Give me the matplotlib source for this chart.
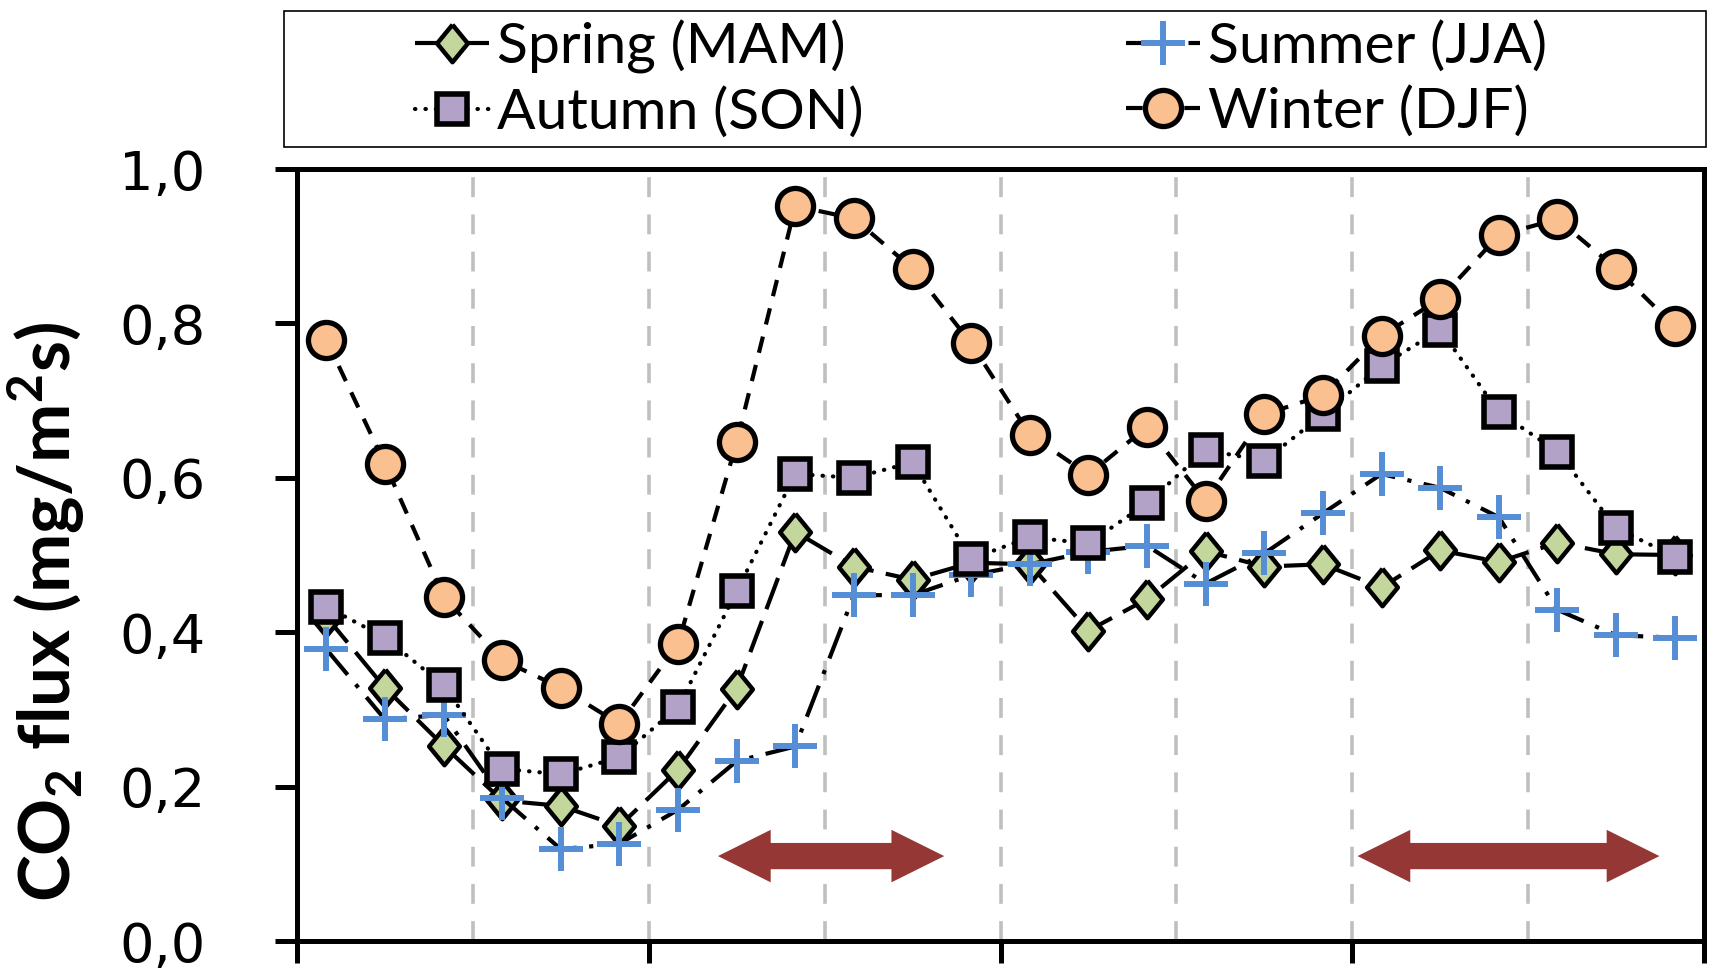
import numpy as np
import matplotlib
matplotlib.use("Agg")
import matplotlib.pyplot as plt
from matplotlib.patches import Polygon, Rectangle

# Half-hourly bins across the day (24 values per season)
hours = np.arange(24) + 0.5

spring = [0.42, 0.328, 0.253, 0.182, 0.175, 0.149, 0.222, 0.327, 0.530, 0.485,
          0.468, 0.490, 0.488, 0.402, 0.443, 0.505, 0.485, 0.488, 0.458, 0.506,
          0.491, 0.516, 0.501, 0.500]
summer = [0.378, 0.287, 0.293, 0.185, 0.119, 0.126, 0.170, 0.233, 0.252, 0.448,
          0.448, 0.474, 0.488, 0.504, 0.512, 0.463, 0.502, 0.554, 0.605, 0.587,
          0.549, 0.429, 0.396, 0.393]
autumn = [0.433, 0.393, 0.331, 0.223, 0.216, 0.238, 0.303, 0.453, 0.605, 0.600,
          0.620, 0.495, 0.523, 0.515, 0.567, 0.636, 0.622, 0.682, 0.745, 0.792,
          0.685, 0.634, 0.535, 0.498]
winter = [0.779, 0.618, 0.446, 0.364, 0.328, 0.281, 0.385, 0.646, 0.952, 0.936,
          0.871, 0.774, 0.656, 0.604, 0.666, 0.570, 0.682, 0.707, 0.784, 0.832,
          0.914, 0.935, 0.871, 0.796]

labels = ["Spring (MAM)", "Summer (JJA)", "Autumn (SON)", "Winter (DJF)"]
y_ticks = [0.0, 0.2, 0.4, 0.6, 0.8, 1.0]
y_ticklabels = ["0,0", "0,2", "0,4", "0,6", "0,8", "1,0"]
x_major = [0, 6, 12, 18, 24]
x_grid = [3, 6, 9, 12, 15, 18, 21]
arrow_spans = [(7.18, 11.04), (18.09, 23.24)]
arrow_level = 0.11

plt.rcParams["mathtext.fontset"] = "custom"
plt.rcParams["mathtext.bf"] = "Lato:bold"
plt.rcParams["mathtext.rm"] = "Lato"

fig = plt.figure(figsize=(17.11, 9.80), dpi=100)
W, H = 1711, 980
ax = fig.add_axes([297 / W, 1 - 941 / H, (1704 - 297) / W, (941 - 169) / H])
ax.set_xlim(0, 24)
ax.set_ylim(0, 1)

for s in ax.spines.values():
    s.set_linewidth(3.6)
    s.set_zorder(6)

# vertical guide lines
for gx in x_grid:
    ax.axvline(gx, color="#BFBFBF", lw=2.6, ls=(0, (5.5, 4.8)), zorder=0.5)

diamond = [(0, 1), (0.82, 0), (0, -1), (-0.82, 0), (0, 1)]

common = dict(color="black", lw=3.0, markeredgecolor="black")
series = [
    (spring, dict(marker=diamond, ms=27, mfc="#C3D69B", mew=3.2,
                  ls=(0, (8, 3)), zorder=2)),
    (summer, dict(marker="+", ms=31, mfc="#558ED5", markeredgecolor="#558ED5",
                  mew=4.3, ls=(0, (8, 3, 1, 3)), zorder=3)),
    (autumn, dict(marker="s", ms=22, mfc="#B3A2C7", mew=4.0,
                  ls=(0, (0.1, 2.4)), dash_capstyle="round", zorder=4)),
    (winter, dict(marker="o", ms=26, mfc="#FAC090", mew=3.8,
                  ls=(0, (4, 3)), zorder=5)),
]
handles = []
for (vals, kw), lab in zip(series, labels):
    kk = dict(common)
    kk.update(kw)
    ln, = ax.plot(hours, vals, label=lab, **kk)
    handles.append(ln)

# double-headed arrows marking transition periods
head_len, head_half, shaft_half = 0.9, 0.034, 0.017
for x0, x1 in arrow_spans:
    y = arrow_level
    pts = [(x0, y), (x0 + head_len, y + head_half), (x0 + head_len, y + shaft_half),
           (x1 - head_len, y + shaft_half), (x1 - head_len, y + head_half), (x1, y),
           (x1 - head_len, y - head_half), (x1 - head_len, y - shaft_half),
           (x0 + head_len, y - shaft_half), (x0 + head_len, y - head_half)]
    ax.add_patch(Polygon(pts, closed=True, facecolor="#953735", edgecolor="none", zorder=1))

ax.set_xticks(x_major)
ax.set_xticklabels([])
ax.set_yticks(y_ticks)
ax.set_yticklabels(y_ticklabels, fontsize=39, family="DejaVu Sans")
ax.tick_params(axis="both", direction="out", length=16, width=3.6)
ax.tick_params(axis="y", pad=50)

fig.text(46 / W, 1 - 612 / H, r"CO$_\mathbf{2}$ flux (mg/m$^\mathbf{2}$s)",
         rotation=90, ha="center", va="center", fontsize=51, fontweight="bold",
         family="Lato")

order = [0, 2, 1, 3]
leg = fig.legend([handles[i] for i in order], [labels[i] for i in order], ncols=2,
                 loc="center", bbox_to_anchor=(981 / W, 1 - 79 / H), frameon=False,
                 prop=dict(family="Lato", size=41), handlelength=1.3,
                 handletextpad=0.15, columnspacing=4.6, labelspacing=0.23,
                 numpoints=1, borderpad=0)
fig.add_artist(Rectangle((284 / W, 1 - 147 / H), (1706 - 284) / W, 136 / H,
                         transform=fig.transFigure, fill=False, edgecolor="black", lw=1.2))

fig.savefig("out.png", dpi=100)
